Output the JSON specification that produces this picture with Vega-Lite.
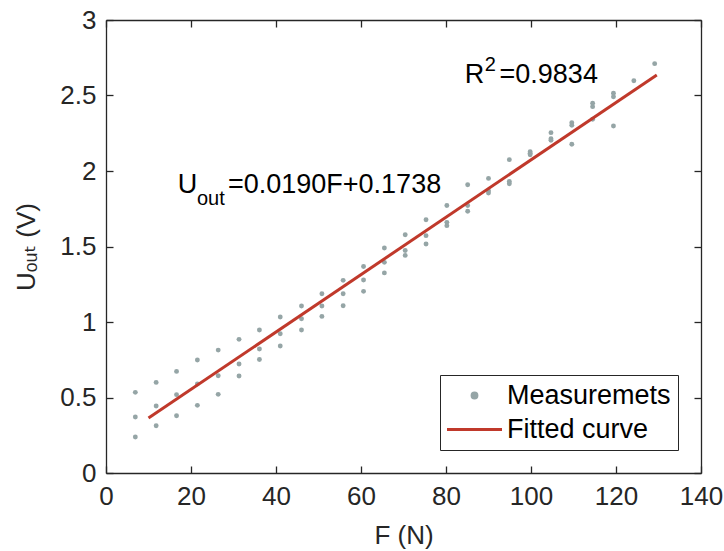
{
  "$schema": "https://vega.github.io/schema/vega-lite/v6.json",
  "width": 595,
  "height": 453,
  "autosize": {"type": "none"},
  "padding": {"left": 106, "top": 20, "right": 23, "bottom": 78},
  "background": "white",
  "config": {
    "view": {"stroke": null},
    "font": "Liberation Sans",
    "axis": {
      "grid": false,
      "domainColor": "#262626",
      "tickColor": "#262626",
      "domainWidth": 1.3,
      "tickWidth": 1.3,
      "tickSize": -7,
      "labelFont": "Liberation Sans",
      "labelFontSize": 26,
      "labelColor": "#262626",
      "labelFlush": false,
      "labelOverlap": false,
      "titleFont": "Liberation Sans, DejaVu Sans",
      "titleFontSize": 26,
      "titleFontWeight": "normal",
      "titleColor": "#262626"
    },
    "legend": {
      "title": null, "orient": "bottom-right", "offset": 23, "padding": 7,
      "strokeColor": "#262626", "fillColor": "white",
      "labelFont": "Liberation Sans", "labelFontSize": 27, "labelColor": "black", "labelOffset": 19, "labelLimit": 400,
      "symbolSize": 121, "symbolOffset": 14, "symbolStrokeWidth": 3, "rowPadding": 6
    }
  },
  "resolve": {"axis": {"x": "independent", "y": "independent"}},
  "layer": [
    {
      "data": {"values": [
        {"F": 6.9, "U": 0.534, "series": "Measuremets"}, {"F": 6.9, "U": 0.371, "series": "Measuremets"}, {"F": 6.9, "U": 0.238, "series": "Measuremets"},
        {"F": 11.8, "U": 0.600, "series": "Measuremets"}, {"F": 11.8, "U": 0.444, "series": "Measuremets"}, {"F": 11.8, "U": 0.313, "series": "Measuremets"},
        {"F": 16.6, "U": 0.673, "series": "Measuremets"}, {"F": 16.6, "U": 0.519, "series": "Measuremets"}, {"F": 16.6, "U": 0.379, "series": "Measuremets"},
        {"F": 21.5, "U": 0.748, "series": "Measuremets"}, {"F": 21.5, "U": 0.589, "series": "Measuremets"}, {"F": 21.5, "U": 0.448, "series": "Measuremets"},
        {"F": 26.4, "U": 0.814, "series": "Measuremets"}, {"F": 26.4, "U": 0.644, "series": "Measuremets"}, {"F": 26.4, "U": 0.521, "series": "Measuremets"},
        {"F": 31.3, "U": 0.885, "series": "Measuremets"}, {"F": 31.3, "U": 0.722, "series": "Measuremets"}, {"F": 31.3, "U": 0.642, "series": "Measuremets"},
        {"F": 36.1, "U": 0.947, "series": "Measuremets"}, {"F": 36.1, "U": 0.821, "series": "Measuremets"}, {"F": 36.1, "U": 0.752, "series": "Measuremets"},
        {"F": 41.0, "U": 1.033, "series": "Measuremets"}, {"F": 41.0, "U": 0.922, "series": "Measuremets"}, {"F": 41.0, "U": 0.841, "series": "Measuremets"},
        {"F": 46.0, "U": 1.106, "series": "Measuremets"}, {"F": 46.0, "U": 1.022, "series": "Measuremets"}, {"F": 46.0, "U": 0.947, "series": "Measuremets"},
        {"F": 50.8, "U": 1.187, "series": "Measuremets"}, {"F": 50.8, "U": 1.106, "series": "Measuremets"}, {"F": 50.8, "U": 1.037, "series": "Measuremets"},
        {"F": 55.8, "U": 1.276, "series": "Measuremets"}, {"F": 55.8, "U": 1.187, "series": "Measuremets"}, {"F": 55.8, "U": 1.108, "series": "Measuremets"},
        {"F": 60.6, "U": 1.368, "series": "Measuremets"}, {"F": 60.6, "U": 1.278, "series": "Measuremets"}, {"F": 60.6, "U": 1.203, "series": "Measuremets"},
        {"F": 65.5, "U": 1.490, "series": "Measuremets"}, {"F": 65.5, "U": 1.395, "series": "Measuremets"}, {"F": 65.5, "U": 1.325, "series": "Measuremets"},
        {"F": 70.4, "U": 1.578, "series": "Measuremets"}, {"F": 70.4, "U": 1.474, "series": "Measuremets"}, {"F": 70.4, "U": 1.441, "series": "Measuremets"},
        {"F": 75.3, "U": 1.677, "series": "Measuremets"}, {"F": 75.3, "U": 1.572, "series": "Measuremets"}, {"F": 75.3, "U": 1.517, "series": "Measuremets"},
        {"F": 80.2, "U": 1.772, "series": "Measuremets"}, {"F": 80.2, "U": 1.660, "series": "Measuremets"}, {"F": 80.2, "U": 1.638, "series": "Measuremets"},
        {"F": 85.1, "U": 1.909, "series": "Measuremets"}, {"F": 85.1, "U": 1.772, "series": "Measuremets"}, {"F": 85.1, "U": 1.733, "series": "Measuremets"},
        {"F": 90.0, "U": 1.951, "series": "Measuremets"}, {"F": 90.0, "U": 1.870, "series": "Measuremets"}, {"F": 90.0, "U": 1.854, "series": "Measuremets"},
        {"F": 94.9, "U": 2.075, "series": "Measuremets"}, {"F": 94.9, "U": 1.931, "series": "Measuremets"}, {"F": 94.9, "U": 1.916, "series": "Measuremets"},
        {"F": 99.8, "U": 2.128, "series": "Measuremets"}, {"F": 99.8, "U": 2.117, "series": "Measuremets"}, {"F": 99.8, "U": 2.107, "series": "Measuremets"},
        {"F": 104.7, "U": 2.254, "series": "Measuremets"}, {"F": 104.7, "U": 2.214, "series": "Measuremets"}, {"F": 104.7, "U": 2.203, "series": "Measuremets"},
        {"F": 109.6, "U": 2.320, "series": "Measuremets"}, {"F": 109.6, "U": 2.303, "series": "Measuremets"}, {"F": 109.6, "U": 2.177, "series": "Measuremets"},
        {"F": 114.5, "U": 2.449, "series": "Measuremets"}, {"F": 114.5, "U": 2.426, "series": "Measuremets"}, {"F": 114.5, "U": 2.343, "series": "Measuremets"},
        {"F": 119.4, "U": 2.515, "series": "Measuremets"}, {"F": 119.4, "U": 2.492, "series": "Measuremets"}, {"F": 119.4, "U": 2.298, "series": "Measuremets"},
        {"F": 124.2, "U": 2.598, "series": "Measuremets"},
        {"F": 129.1, "U": 2.711, "series": "Measuremets"}
      ]},
      "mark": {"type": "point", "filled": true, "size": 24, "opacity": 1},
      "encoding": {
        "x": {"field": "F", "type": "quantitative", "scale": {"domain": [0, 140], "nice": false},
              "axis": {"orient": "bottom", "values": [0, 20, 40, 60, 80, 100, 120, 140], "title": "F (N)", "labelPadding": 17, "titlePadding": 13}},
        "y": {"field": "U", "type": "quantitative", "scale": {"domain": [0, 3], "nice": false},
              "axis": {"orient": "left", "values": [0, 0.5, 1, 1.5, 2, 2.5, 3], "format": "~g", "title": "Uₒᵤₜ (V)", "labelPadding": 17, "titlePadding": 20}},
        "color": {"field": "series", "type": "nominal",
                  "scale": {"domain": ["Measuremets", "Fitted curve"], "range": ["#95a5a6", "#c0392b"]},
                  "legend": {
                    "encode": {"symbols": {"update": {
                      "shape": {"signal": "datum.value === 'Measuremets' ? 'M-0.44,0A0.44,0.44 0 1,0 0.44,0A0.44,0.44 0 1,0 -0.44,0Z' : 'M-5,0H5'"},
                      "fill": {"signal": "datum.value === 'Measuremets' ? '#95a5a6' : 'transparent'"},
                      "stroke": {"signal": "datum.value === 'Measuremets' ? 'transparent' : '#c0392b'"},
                      "opacity": {"value": 1}
                    }}}
                  }}
      }
    },
    {
      "data": {"values": [
        {"F": 10, "U": 0.364, "series": "Fitted curve"},
        {"F": 129.6, "U": 2.636, "series": "Fitted curve"}
      ]},
      "mark": {"type": "line", "strokeWidth": 3},
      "encoding": {
        "x": {"field": "F", "type": "quantitative", "scale": {"domain": [0, 140], "nice": false},
              "axis": {"orient": "top", "values": [0, 20, 40, 60, 80, 100, 120, 140], "labels": false, "title": null}},
        "y": {"field": "U", "type": "quantitative", "scale": {"domain": [0, 3], "nice": false},
              "axis": {"orient": "right", "values": [0, 0.5, 1, 1.5, 2, 2.5, 3], "labels": false, "title": null}},
        "color": {"field": "series", "type": "nominal",
                  "scale": {"domain": ["Measuremets", "Fitted curve"], "range": ["#95a5a6", "#c0392b"]},
                  "legend": {
                    "encode": {"symbols": {"update": {
                      "shape": {"signal": "datum.value === 'Measuremets' ? 'M-0.44,0A0.44,0.44 0 1,0 0.44,0A0.44,0.44 0 1,0 -0.44,0Z' : 'M-5,0H5'"},
                      "fill": {"signal": "datum.value === 'Measuremets' ? '#95a5a6' : 'transparent'"},
                      "stroke": {"signal": "datum.value === 'Measuremets' ? 'transparent' : '#c0392b'"},
                      "opacity": {"value": 1}
                    }}}
                  }}
      }
    },
    {
      "data": {"values": [
        {"F": 16.9, "U": 1.853, "label": "U"},
        {"F": 28.7, "U": 1.853, "label": "=0.0190F+0.1738"},
        {"F": 84.4, "U": 2.581, "label": "R"},
        {"F": 92.6, "U": 2.581, "label": "=0.9834"}
      ]},
      "mark": {"type": "text", "align": "left", "baseline": "alphabetic", "fontSize": 27, "font": "Liberation Sans", "color": "black"},
      "encoding": {
        "x": {"field": "F", "type": "quantitative", "axis": null},
        "y": {"field": "U", "type": "quantitative", "axis": null},
        "text": {"field": "label"}
      }
    },
    {
      "data": {"values": [
        {"F": 21.4, "U": 1.776, "label": "out"},
        {"F": 89.1, "U": 2.664, "label": "2"}
      ]},
      "mark": {"type": "text", "align": "left", "baseline": "alphabetic", "fontSize": 20, "font": "Liberation Sans", "color": "black"},
      "encoding": {
        "x": {"field": "F", "type": "quantitative", "axis": null},
        "y": {"field": "U", "type": "quantitative", "axis": null},
        "text": {"field": "label"}
      }
    }
  ]
}
